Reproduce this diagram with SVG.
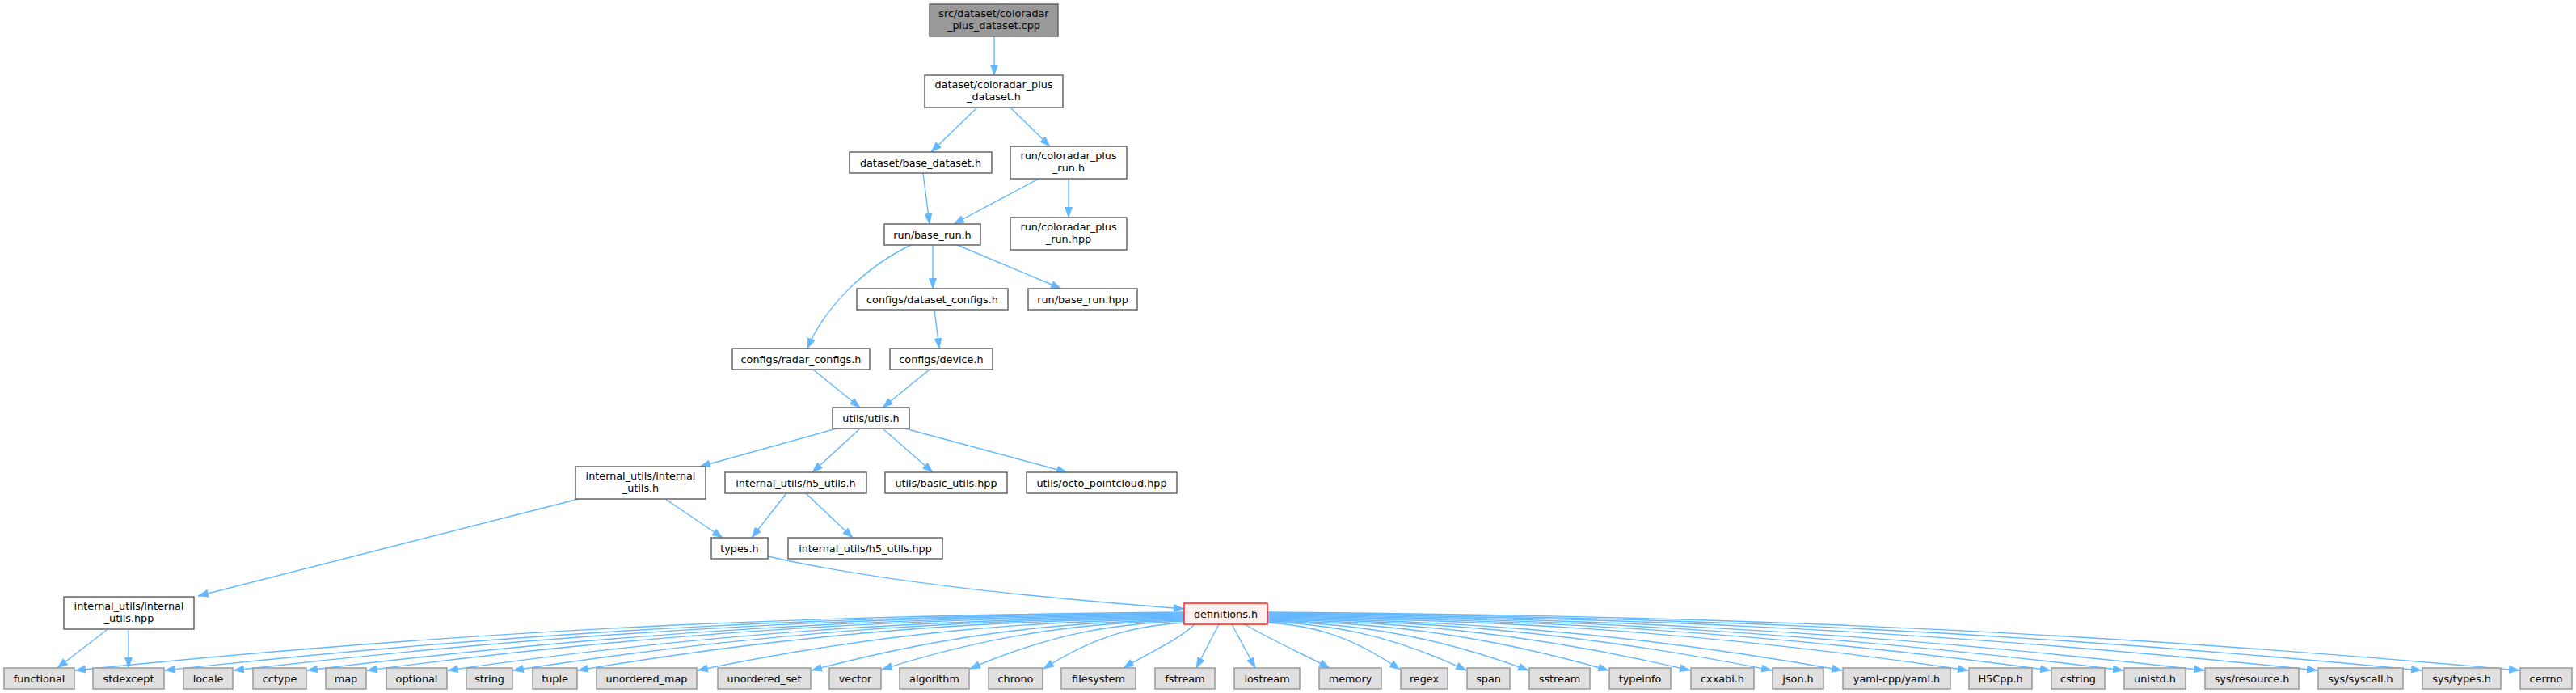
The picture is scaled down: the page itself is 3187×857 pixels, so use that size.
<svg xmlns="http://www.w3.org/2000/svg" width="3187" height="857" viewBox="0 0 3187 857">
<defs>
<style>
.node rect{fill:#ffffff;stroke:#666666;stroke-width:1.5}
.root rect{fill:#999999;stroke:#666666}
.leaf rect{fill:#e0e0e0;stroke:#999999}
.hl rect{fill:#fff0f0;stroke:#ff2020}
text{font-family:"DejaVu Sans",sans-serif;font-size:12.8px;fill:#000000;text-anchor:middle}
#edges path{fill:none;stroke:#63b8ff;stroke-width:1.4;marker-end:url(#ah)}
</style>
<marker id="ah" markerUnits="userSpaceOnUse" markerWidth="14" markerHeight="10" refX="13" refY="5" orient="auto"><path d="M0,0 L14,5 L0,10 z" fill="#63b8ff"/></marker>
</defs>
<rect width="3187" height="857" fill="#ffffff"/>
<g id="edges">
<path d="M1230,45 L1230,93"/>
<path d="M1209,133 L1152,188"/>
<path d="M1250,133 L1299,181"/>
<path d="M1142,214 L1150,277"/>
<path d="M1285,221 L1180,277"/>
<path d="M1322,221 L1322,269"/>
<path d="M1154,302 L1154,357"/>
<path d="M1182,302 L1313,357"/>
<path d="M1129,302 C1070,330 1020,380 999,431"/>
<path d="M1156,383 L1162,431"/>
<path d="M1006,457 L1064,504"/>
<path d="M1150,457 L1092,504"/>
<path d="M1035,530 L866,577"/>
<path d="M1064,530 L1005,584"/>
<path d="M1092,530 L1154,584"/>
<path d="M1120,530 L1320,584"/>
<path d="M823,617 L894,665"/>
<path d="M716,617 L245,737"/>
<path d="M973,610 L930,665"/>
<path d="M997,610 L1055,665"/>
<path d="M950,688 C1100,722 1300,740 1465,753"/>
<path d="M132,779 L71,826"/>
<path d="M159,779 L159,826"/>
<path d="M1465,757 C1053.4,760.6 641.8,772.8 93,829"/>
<path d="M1465,758 C1086.7,761.6 708.4,773.6 204,829"/>
<path d="M1465,759 C1112.2,762.5 759.4,774.4 289,829"/>
<path d="M1465,760 C1139.5,763.5 814,775.2 380,829"/>
<path d="M1465,761 C1161.7,764.4 858.4,776 454,829"/>
<path d="M1465,762 C1191.7,765.4 918.4,776.7 554,829"/>
<path d="M1465,763 C1216,766.3 967,777.5 635,829"/>
<path d="M1465,764 C1240,767.3 1015,778.3 715,829"/>
<path d="M1465,765 C1284.4,768.2 1103.8,779.1 863,829"/>
<path d="M1465,766 C1326.7,769.2 1188.4,779.9 1004,829"/>
<path d="M1465,767 C1352.8,770 1240.6,780.4 1091,828"/>
<path d="M1465,768 C1385.5,771 1306,781 1200,827"/>
<path d="M1466,770 C1413,773 1361,782.5 1291,827"/>
<path d="M1478,772 C1460,790 1420,808 1390,826"/>
<path d="M1508,772 L1480,826"/>
<path d="M1524,772 L1553,826"/>
<path d="M1540,772 C1570,790 1610,808 1645,826"/>
<path d="M1568,770 C1617.2,772.9 1666.4,782.8 1732,828"/>
<path d="M1568,769 C1641.8,772 1715.6,782.2 1814,829"/>
<path d="M1568,768 C1664.9,771 1761.8,781.4 1891,829"/>
<path d="M1568,767 C1694.6,770.1 1821.2,780.6 1990,829"/>
<path d="M1568,766 C1724.9,769.2 1881.8,779.9 2091,829"/>
<path d="M1568,765 C1755.2,768.2 1942.4,779.1 2192,829"/>
<path d="M1568,764 C1781.3,767.3 1994.6,778.3 2279,829"/>
<path d="M1568,763 C1828.1,766.3 2088.2,777.5 2435,829"/>
<path d="M1568,762 C1858.7,765.4 2149.4,776.7 2537,829"/>
<path d="M1568,761 C1885.7,764.4 2203.4,776 2627,829"/>
<path d="M1568,760 C1915.7,763.5 2263.4,775.2 2727,829"/>
<path d="M1568,759 C1957.7,762.5 2347.4,774.4 2867,829"/>
<path d="M1568,758 C1996.4,761.6 2424.8,773.6 2996,829"/>
<path d="M1568,757 C2032.7,760.6 2497.4,772.8 3117,829"/>
</g>
<g id="n_root" class="node root"><rect x="1150" y="5" width="159" height="40"/><text x="1229.5" y="21">src/dataset/coloradar</text><text x="1229.5" y="36">_plus_dataset.cpp</text></g>
<g id="n_cp_dataset" class="node"><rect x="1144" y="93" width="171" height="40"/><text x="1229.5" y="109">dataset/coloradar_plus</text><text x="1229.5" y="124">_dataset.h</text></g>
<g id="n_base_dataset" class="node"><rect x="1051" y="188" width="176" height="26"/><text x="1139" y="205.5">dataset/base_dataset.h</text></g>
<g id="n_cp_run_h" class="node"><rect x="1250" y="181" width="144" height="40"/><text x="1322" y="197">run/coloradar_plus</text><text x="1322" y="212">_run.h</text></g>
<g id="n_base_run_h" class="node"><rect x="1094" y="277" width="119" height="26"/><text x="1153.5" y="294.5">run/base_run.h</text></g>
<g id="n_cp_run_hpp" class="node"><rect x="1250" y="269" width="144" height="40"/><text x="1322" y="285">run/coloradar_plus</text><text x="1322" y="300">_run.hpp</text></g>
<g id="n_dataset_configs" class="node"><rect x="1060" y="357" width="187" height="26"/><text x="1153.5" y="374.5">configs/dataset_configs.h</text></g>
<g id="n_base_run_hpp" class="node"><rect x="1272" y="357" width="135" height="26"/><text x="1339.5" y="374.5">run/base_run.hpp</text></g>
<g id="n_radar_configs" class="node"><rect x="906" y="431" width="170" height="26"/><text x="991" y="448.5">configs/radar_configs.h</text></g>
<g id="n_device" class="node"><rect x="1101" y="431" width="127" height="26"/><text x="1164.5" y="448.5">configs/device.h</text></g>
<g id="n_utils" class="node"><rect x="1030" y="504" width="95" height="26"/><text x="1077.5" y="521.5">utils/utils.h</text></g>
<g id="n_internal_utils_h" class="node"><rect x="712" y="577" width="161" height="40"/><text x="792.5" y="593">internal_utils/internal</text><text x="792.5" y="608">_utils.h</text></g>
<g id="n_h5_utils_h" class="node"><rect x="897" y="584" width="175" height="26"/><text x="984.5" y="601.5">internal_utils/h5_utils.h</text></g>
<g id="n_basic_utils" class="node"><rect x="1095" y="584" width="151" height="26"/><text x="1170.5" y="601.5">utils/basic_utils.hpp</text></g>
<g id="n_octo" class="node"><rect x="1270" y="584" width="186" height="26"/><text x="1363" y="601.5">utils/octo_pointcloud.hpp</text></g>
<g id="n_types" class="node"><rect x="880" y="665" width="70" height="26"/><text x="915" y="682.5">types.h</text></g>
<g id="n_h5_utils_hpp" class="node"><rect x="975" y="665" width="191" height="26"/><text x="1070.5" y="682.5">internal_utils/h5_utils.hpp</text></g>
<g id="n_internal_utils_hpp" class="node"><rect x="79" y="738" width="161" height="40"/><text x="159.5" y="754">internal_utils/internal</text><text x="159.5" y="769">_utils.hpp</text></g>
<g id="n_definitions" class="node hl"><rect x="1465" y="746" width="103" height="26"/><text x="1516.5" y="763.5">definitions.h</text></g>
<g id="l_functional" class="node leaf"><rect x="5" y="826" width="87" height="26"/><text x="48.5" y="843.5">functional</text></g>
<g id="l_stdexcept" class="node leaf"><rect x="115" y="826" width="88" height="26"/><text x="159" y="843.5">stdexcept</text></g>
<g id="l_locale" class="node leaf"><rect x="227" y="826" width="61" height="26"/><text x="257.5" y="843.5">locale</text></g>
<g id="l_cctype" class="node leaf"><rect x="313" y="826" width="66" height="26"/><text x="346" y="843.5">cctype</text></g>
<g id="l_map" class="node leaf"><rect x="403" y="826" width="50" height="26"/><text x="428" y="843.5">map</text></g>
<g id="l_optional" class="node leaf"><rect x="478" y="826" width="75" height="26"/><text x="515.5" y="843.5">optional</text></g>
<g id="l_string" class="node leaf"><rect x="577" y="826" width="57" height="26"/><text x="605.5" y="843.5">string</text></g>
<g id="l_tuple" class="node leaf"><rect x="659" y="826" width="55" height="26"/><text x="686.5" y="843.5">tuple</text></g>
<g id="l_unordered_map" class="node leaf"><rect x="738" y="826" width="124" height="26"/><text x="800" y="843.5">unordered_map</text></g>
<g id="l_unordered_set" class="node leaf"><rect x="888" y="826" width="115" height="26"/><text x="945.5" y="843.5">unordered_set</text></g>
<g id="l_vector" class="node leaf"><rect x="1026" y="826" width="64" height="26"/><text x="1058" y="843.5">vector</text></g>
<g id="l_algorithm" class="node leaf"><rect x="1113" y="826" width="86" height="26"/><text x="1156" y="843.5">algorithm</text></g>
<g id="l_chrono" class="node leaf"><rect x="1223" y="826" width="67" height="26"/><text x="1256.5" y="843.5">chrono</text></g>
<g id="l_filesystem" class="node leaf"><rect x="1313" y="826" width="92" height="26"/><text x="1359" y="843.5">filesystem</text></g>
<g id="l_fstream" class="node leaf"><rect x="1429" y="826" width="74" height="26"/><text x="1466" y="843.5">fstream</text></g>
<g id="l_iostream" class="node leaf"><rect x="1527" y="826" width="81" height="26"/><text x="1567.5" y="843.5">iostream</text></g>
<g id="l_memory" class="node leaf"><rect x="1632" y="826" width="77" height="26"/><text x="1670.5" y="843.5">memory</text></g>
<g id="l_regex" class="node leaf"><rect x="1733" y="826" width="58" height="26"/><text x="1762" y="843.5">regex</text></g>
<g id="l_span" class="node leaf"><rect x="1815" y="826" width="53" height="26"/><text x="1841.5" y="843.5">span</text></g>
<g id="l_sstream" class="node leaf"><rect x="1892" y="826" width="75" height="26"/><text x="1929.5" y="843.5">sstream</text></g>
<g id="l_typeinfo" class="node leaf"><rect x="1991" y="826" width="76" height="26"/><text x="2029" y="843.5">typeinfo</text></g>
<g id="l_cxxabi" class="node leaf"><rect x="2092" y="826" width="78" height="26"/><text x="2131" y="843.5">cxxabi.h</text></g>
<g id="l_json" class="node leaf"><rect x="2193" y="826" width="63" height="26"/><text x="2224.5" y="843.5">json.h</text></g>
<g id="l_yaml" class="node leaf"><rect x="2280" y="826" width="133" height="26"/><text x="2346.5" y="843.5">yaml-cpp/yaml.h</text></g>
<g id="l_h5cpp" class="node leaf"><rect x="2436" y="826" width="78" height="26"/><text x="2475" y="843.5">H5Cpp.h</text></g>
<g id="l_cstring" class="node leaf"><rect x="2538" y="826" width="66" height="26"/><text x="2571" y="843.5">cstring</text></g>
<g id="l_unistd" class="node leaf"><rect x="2628" y="826" width="76" height="26"/><text x="2666" y="843.5">unistd.h</text></g>
<g id="l_resource" class="node leaf"><rect x="2728" y="826" width="116" height="26"/><text x="2786" y="843.5">sys/resource.h</text></g>
<g id="l_syscall" class="node leaf"><rect x="2868" y="826" width="105" height="26"/><text x="2920.5" y="843.5">sys/syscall.h</text></g>
<g id="l_systypes" class="node leaf"><rect x="2997" y="826" width="97" height="26"/><text x="3045.5" y="843.5">sys/types.h</text></g>
<g id="l_cerrno" class="node leaf"><rect x="3118" y="826" width="64" height="26"/><text x="3150" y="843.5">cerrno</text></g>
</svg>
